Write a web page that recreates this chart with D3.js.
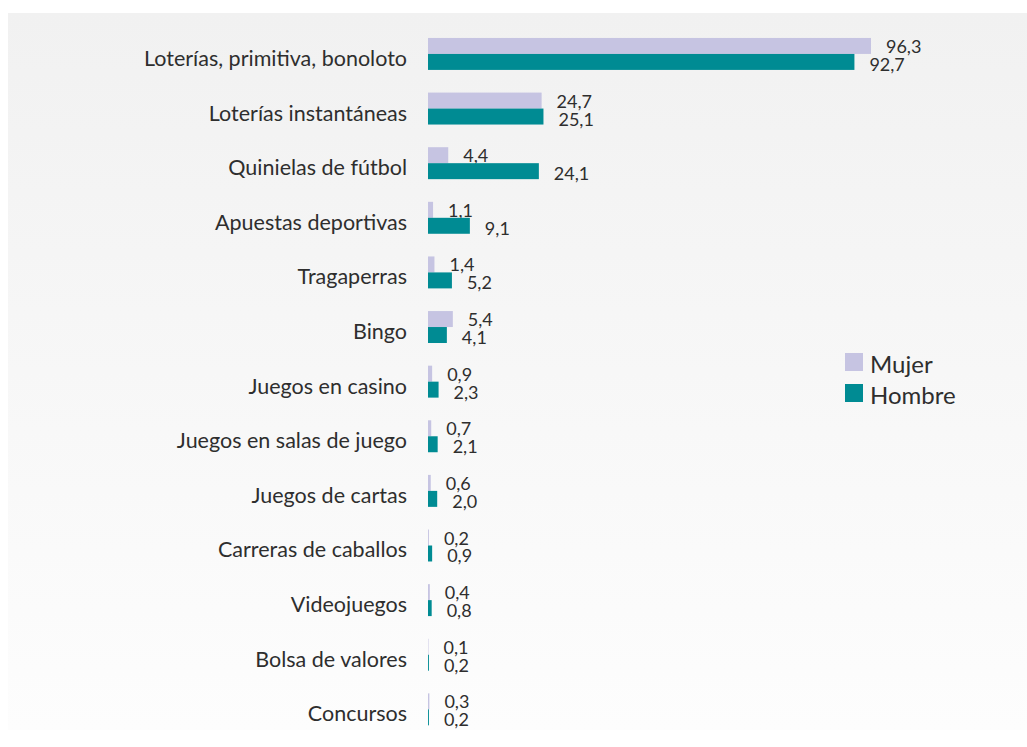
<!DOCTYPE html>
<head>
    <meta charset="utf-8">
    <title>Juegos por sexo</title>
    <script src="https://d3js.org/d3.v7.min.js"></script>
    <style>
        body { margin: 0; background: #fff; }
        svg { display: block; font-family: Lato, "Open Sans", sans-serif; }
    </style>
</head>
<body>
    <div id="container"></div>
    <script>
        //------------------------DATA------------------------//
        var categories = ["Loterías, primitiva, bonoloto", "Loterías instantáneas", "Quinielas de fútbol",
            "Apuestas deportivas", "Tragaperras", "Bingo", "Juegos en casino", "Juegos en salas de juego",
            "Juegos de cartas", "Carreras de caballos", "Videojuegos", "Bolsa de valores", "Concursos"]
        var mujer = [96.3, 24.7, 4.4, 1.1, 1.4, 5.4, 0.9, 0.7, 0.6, 0.2, 0.4, 0.1, 0.3]
        var hombre = [92.7, 25.1, 24.1, 9.1, 5.2, 4.1, 2.3, 2.1, 2.0, 0.9, 0.8, 0.2, 0.2]
        var seriesNames = ["Mujer", "Hombre"]

        //------------------------SETUP------------------------//
        var width = 1027, height = 747,
            colors = { Mujer: "#c6c4e2", Hombre: "#008b93" },
            labelShift = { Mujer: 0, Hombre: 2 },
            textColor = "#2e2e2e"

        var fmt = d3.formatLocale({ decimal: ",", thousands: ".", grouping: [3], currency: ["", "€"] }).format(".1f")

        var rows = categories.map(function (c, i) {
            return { name: c, Mujer: mujer[i], Hombre: hombre[i] }
        })

        var x = d3.scaleLinear().domain([0, 100]).range([428, 888])
        var y = d3.scaleBand().domain(categories).range([15.3, 748]).padding(0.415)
        var y1 = d3.scaleBand().domain(seriesNames).range([0, y.bandwidth()])

        var svg = d3.select("#container").append("svg")
            .attr("width", width).attr("height", height)

        // background panel with soft gradient
        var grad = svg.append("defs").append("linearGradient")
            .attr("id", "bg").attr("x1", 0).attr("y1", 0).attr("x2", 0).attr("y2", 1)
        grad.append("stop").attr("offset", "0%").attr("stop-color", "#f1f1f1")
        grad.append("stop").attr("offset", "100%").attr("stop-color", "#fdfdfd")

        svg.append("rect")
            .attr("x", 8).attr("y", 13)
            .attr("width", width - 8).attr("height", 717)
            .attr("fill", "url(#bg)")

        //------------------------BARS------------------------//
        var groups = svg.selectAll(".group")
            .data(rows)
            .enter()
            .append("g")
            .attr("class", "group")
            .attr("transform", function (d) { return "translate(0," + y(d.name) + ")" })

        // category labels
        groups.append("text")
            .attr("x", x(0) - 21)
            .attr("y", y.bandwidth() / 2 + 4)
            .attr("text-anchor", "end")
            .attr("dominant-baseline", "central")
            .attr("font-size", 21.5)
            .attr("fill", textColor)
            .text(function (d) { return d.name })

        seriesNames.forEach(function (s) {
            groups.append("rect")
                .attr("x", x(0))
                .attr("y", y1(s))
                .attr("width", function (d) { return x(d[s]) - x(0) })
                .attr("height", y1.bandwidth())
                .attr("fill", colors[s])

            groups.append("text")
                .attr("x", function (d) { return x(d[s]) + 15 })
                .attr("y", y1(s) + y1.bandwidth() / 2 + labelShift[s])
                .attr("dominant-baseline", "central")
                .attr("font-size", 18)
                .attr("fill", textColor)
                .text(function (d) { return fmt(d[s]) })
        })

        //------------------------LEGEND------------------------//
        var legend = svg.selectAll(".legend")
            .data(seriesNames)
            .enter()
            .append("g")
            .attr("transform", function (d, i) { return "translate(845," + (353 + i * 31) + ")" })

        legend.append("rect")
            .attr("width", 18).attr("height", 18)
            .attr("fill", function (d) { return colors[d] })

        legend.append("text")
            .attr("x", 25).attr("y", 10)
            .attr("dominant-baseline", "central")
            .attr("font-size", 24)
            .attr("fill", textColor)
            .text(function (d) { return d })
    </script>
</body>
